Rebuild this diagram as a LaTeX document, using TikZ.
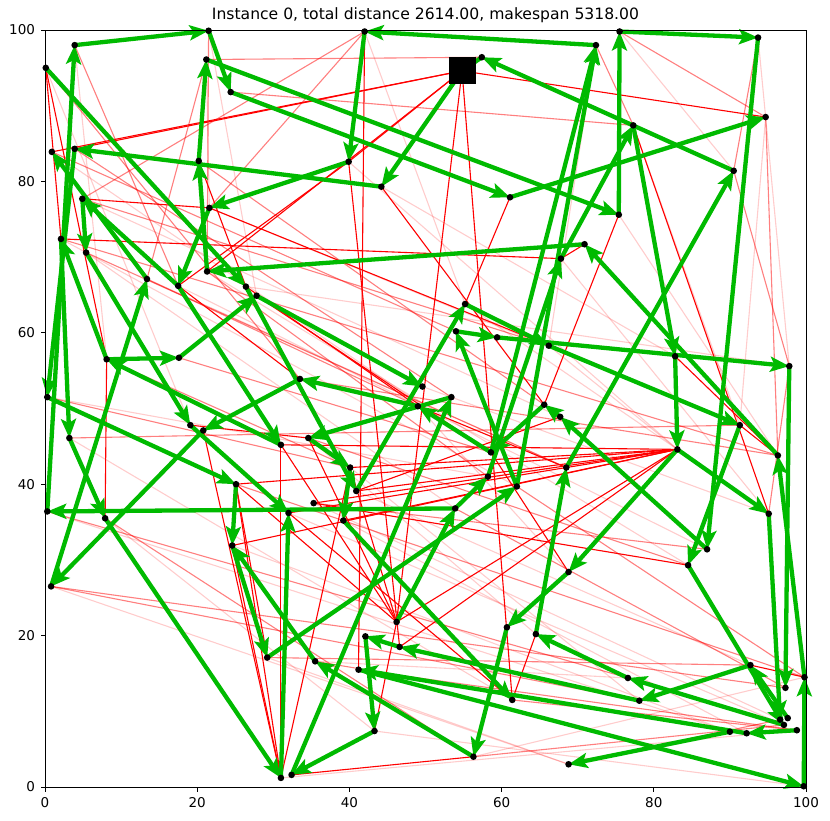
\documentclass[tikz,border=0pt]{standalone}
\usepackage{fontspec}
\setmainfont{DejaVu Sans}
\usetikzlibrary{arrows.meta}
\definecolor{gr}{RGB}{0,186,0}
\tikzset{
  garrow/.style={draw=gr, line width=4.3pt, -{Stealth[length=19pt,width=15pt,inset=4pt]}},
  gline/.style={draw=gr, line width=4.3pt},
  rl/.style={draw=red, line width=1.1pt},
  rlb/.style={draw=red, line width=1.1pt, opacity=0.5},
  rlc/.style={draw=red, line width=1.1pt, opacity=0.2},
  dot/.style={circle, fill=black, inner sep=0pt, minimum size=6.6pt},
  depbox/.style={rectangle, fill=black, inner sep=0pt, minimum size=27pt},
  tick/.style={line width=0.8pt},
  ticklab/.style={font=\fontsize{13.5}{14}\selectfont},
}
\begin{document}
\begin{tikzpicture}[x=1pt,y=1pt]
\useasboundingbox (0,0) rectangle (830,820);
\fill[white] (0,0) rectangle (830,820);
\begin{scope}[shift={(45pt,33pt)}, x=7.61pt, y=7.57pt]
\coordinate (dep) at (54.8,94.6);
\coordinate (n2) at (57.4,96.4);
\coordinate (n3) at (42.0,99.8);
\coordinate (n4) at (21.5,99.9);
\coordinate (n5) at (3.9,98.0);
\coordinate (n6) at (21.2,96.1);
\coordinate (n7) at (24.4,91.8);
\coordinate (n8) at (0.1,95.0);
\coordinate (n9) at (72.4,98.0);
\coordinate (n10) at (75.5,99.8);
\coordinate (n11) at (93.7,99.0);
\coordinate (n12) at (94.7,88.5);
\coordinate (n13) at (77.3,87.4);
\coordinate (n14) at (0.9,83.9);
\coordinate (n15) at (3.9,84.3);
\coordinate (n16) at (20.2,82.7);
\coordinate (n17) at (39.9,82.6);
\coordinate (n18) at (44.2,79.3);
\coordinate (n19) at (61.1,77.9);
\coordinate (n20) at (90.5,81.4);
\coordinate (n21) at (75.4,75.6);
\coordinate (n22) at (21.6,76.5);
\coordinate (n23) at (4.9,77.7);
\coordinate (n24) at (2.1,72.4);
\coordinate (n25) at (5.4,70.6);
\coordinate (n26) at (70.9,71.7);
\coordinate (n27) at (67.8,69.8);
\coordinate (n28) at (13.4,67.1);
\coordinate (n29) at (17.5,66.2);
\coordinate (n30) at (21.3,68.1);
\coordinate (n31) at (26.4,66.1);
\coordinate (n32) at (27.8,64.9);
\coordinate (n33) at (55.2,63.8);
\coordinate (n34) at (54.0,60.2);
\coordinate (n35) at (59.4,59.4);
\coordinate (n36) at (66.2,58.3);
\coordinate (n37) at (8.1,56.5);
\coordinate (n38) at (17.6,56.7);
\coordinate (n39) at (82.8,56.9);
\coordinate (n40) at (97.8,55.6);
\coordinate (n41) at (33.5,53.9);
\coordinate (n42) at (49.6,52.9);
\coordinate (n43) at (53.4,51.5);
\coordinate (n44) at (49.0,50.3);
\coordinate (n45) at (65.6,50.5);
\coordinate (n46) at (0.3,51.5);
\coordinate (n47) at (67.7,48.9);
\coordinate (n48) at (91.3,47.8);
\coordinate (n49) at (19.1,47.8);
\coordinate (n50) at (20.8,47.1);
\coordinate (n51) at (3.2,46.1);
\coordinate (n52) at (31.0,45.2);
\coordinate (n53) at (34.6,46.1);
\coordinate (n54) at (58.6,44.2);
\coordinate (n55) at (83.1,44.6);
\coordinate (n56) at (96.3,43.8);
\coordinate (n57) at (40.1,42.2);
\coordinate (n58) at (68.5,42.2);
\coordinate (n59) at (58.2,41.0);
\coordinate (n60) at (62.0,39.7);
\coordinate (n61) at (40.9,39.1);
\coordinate (n62) at (25.1,40.0);
\coordinate (n63) at (35.3,37.5);
\coordinate (n64) at (0.3,36.4);
\coordinate (n65) at (7.9,35.5);
\coordinate (n66) at (32.0,36.2);
\coordinate (n67) at (53.9,36.8);
\coordinate (n68) at (39.2,35.2);
\coordinate (n69) at (95.1,36.1);
\coordinate (n70) at (87.0,31.4);
\coordinate (n71) at (24.6,31.9);
\coordinate (n72) at (84.5,29.3);
\coordinate (n73) at (68.8,28.4);
\coordinate (n74) at (0.8,26.5);
\coordinate (n75) at (46.2,21.8);
\coordinate (n76) at (42.1,19.9);
\coordinate (n77) at (46.6,18.5);
\coordinate (n78) at (60.7,21.1);
\coordinate (n79) at (64.5,20.2);
\coordinate (n80) at (29.2,17.1);
\coordinate (n81) at (35.5,16.6);
\coordinate (n82) at (41.2,15.5);
\coordinate (n83) at (76.6,14.4);
\coordinate (n84) at (78.1,11.4);
\coordinate (n85) at (61.4,11.5);
\coordinate (n86) at (92.7,16.1);
\coordinate (n87) at (99.8,14.5);
\coordinate (n88) at (97.3,13.1);
\coordinate (n89) at (43.3,7.4);
\coordinate (n90) at (56.3,4.0);
\coordinate (n91) at (96.6,8.9);
\coordinate (n92) at (97.6,9.1);
\coordinate (n93) at (97.1,8.2);
\coordinate (n94) at (98.8,7.5);
\coordinate (n95) at (90.0,7.3);
\coordinate (n96) at (92.2,7.1);
\coordinate (n97) at (68.8,3.0);
\coordinate (n98) at (31.0,1.2);
\coordinate (n99) at (32.4,1.6);
\coordinate (n100) at (99.7,0.1);
% red lines (full)
\foreach \a/\b in {dep/n15,dep/n14,dep/n30,dep/n12,dep/n75,dep/n85,dep/n17,n3/n82,n17/n77,n17/n29,n24/n27,n23/n22,n8/n24,n8/n37,n18/n45,
  n55/n66,n55/n62,n55/n52,n55/n71,n55/n63,n55/n68,n55/n57,n55/n61,n55/n75,n55/n77,
  n98/n62,n98/n52,n98/n71,n98/n50,n98/n57,n75/n62,n75/n52,n75/n53,n75/n57,
  n13/n69,n19/n33,n22/n36,n16/n31,n29/n41,n31/n44,n32/n54,n21/n45,n26/n27,n48/n56,n39/n56,n69/n55,n79/n85,n78/n73,n89/n75,n99/n90,n80/n62,n63/n72,n66/n85,n65/n37,n49/n53,n58/n44,n47/n61,n73/n54,n86/n87}
  \draw[rl] (\a) -- (\b);
% red lines (half)
\foreach \a/\b in {n3/n22,n3/n23,n14/n34,n16/n45,n8/n41,n23/n36,n24/n56,n15/n43,n25/n58,n5/n29,n7/n13,n9/n13,n10/n12,n11/n20,n28/n44,n30/n59,n37/n57,n38/n54,n41/n56,n46/n57,n51/n48,n62/n87,n64/n83,n74/n84,n74/n88,n65/n90,n80/n86,n81/n96,n82/n94,n90/n93,n97/n91,n85/n94,n67/n88,n60/n87,n70/n63,n72/n53,n20/n40,n12/n56,n40/n69,n2/n6,n4/n30,n6/n28}
  \draw[rlb] (\a) -- (\b);
% red lines (faint)
\foreach \a/\b in {n5/n37,n8/n49,n14/n54,n23/n47,n24/n60,n25/n67,n46/n59,n51/n85,n64/n95,n74/n97,n65/n89,n28/n58,n29/n70,n30/n72,n31/n40,n22/n48,n18/n39,n17/n55,n3/n33,n4/n32,n6/n22,n10/n20,n9/n36,n11/n40,n12/n48,n13/n48,n21/n56,n27/n69,n33/n55,n36/n55,n42/n69,n44/n73,n53/n79,n57/n84,n61/n86,n63/n91,n66/n93,n68/n96,n71/n95,n80/n97,n81/n83,n89/n100,n90/n87,n98/n94}
  \draw[rlc] (\a) -- (\b);
% green tour
\foreach \a/\b in {dep/n18,n18/n15,n15/n46,n46/n62,n5/n4,n4/n7,n7/n19,n19/n12,n6/n21,n21/n10,n10/n11,n11/n70,n70/n47,n47/n45,
  n9/n3,n3/n17,n17/n22,n22/n29,n29/n23,n23/n25,n25/n49,n49/n66,n26/n30,n30/n16,n16/n6,n20/n2,
  n27/n13,n13/n39,n39/n55,n55/n69,n55/n73,n73/n78,n78/n90,n90/n81,n81/n71,n62/n71,n71/n80,n80/n60,n60/n34,n60/n9,n34/n35,n35/n40,
  n33/n36,n36/n48,n48/n72,n72/n93,n93/n83,n83/n79,n79/n58,n58/n20,n69/n91,n40/n88,
  n50/n74,n64/n5,n74/n28,n41/n50,n44/n41,n52/n37,n37/n38,n38/n32,n32/n42,n37/n24,n24/n51,n51/n65,n65/n98,n98/n66,
  n28/n14,n8/n31,n31/n61,n61/n33,n29/n52,
  n45/n54,n54/n9,n54/n44,n67/n59,n59/n27,n67/n64,n75/n67,
  n76/n89,n89/n99,n99/n43,n43/n53,n53/n57,n57/n68,n68/n85,
  n92/n86,n86/n84,n84/n77,n77/n76,n96/n82,n82/n100,n100/n87,n87/n56,n56/n26,n94/n96,n95/n97}
  \draw[garrow] (\a) -- (\b);
\draw[gline] (n2) -- (dep);
% dots
\foreach \i in {2,...,100} \node[dot] (d\i) at (n\i) {};
\node[depbox] (depot) at (dep) {};
% frame and ticks
\draw[line width=0.9pt] (0,0) rectangle (100,100);
\foreach \v in {0,20,40,60,80,100} {
  \draw[tick] (\v,0) -- ++(0,-4.5pt);
  \node[ticklab, anchor=north] (xl\v) at ([yshift=-6.5pt]\v,0) {\v};
  \draw[tick] (0,\v) -- ++(-4.5pt,0);
  \node[ticklab, anchor=east] (yl\v) at ([xshift=-6.5pt]0,\v) {\v};
}
\end{scope}
\node[font=\fontsize{15.6}{17}\selectfont] (title) at (425.5,805) {Instance 0, total distance 2614.00, makespan 5318.00};
\end{tikzpicture}
\end{document}
